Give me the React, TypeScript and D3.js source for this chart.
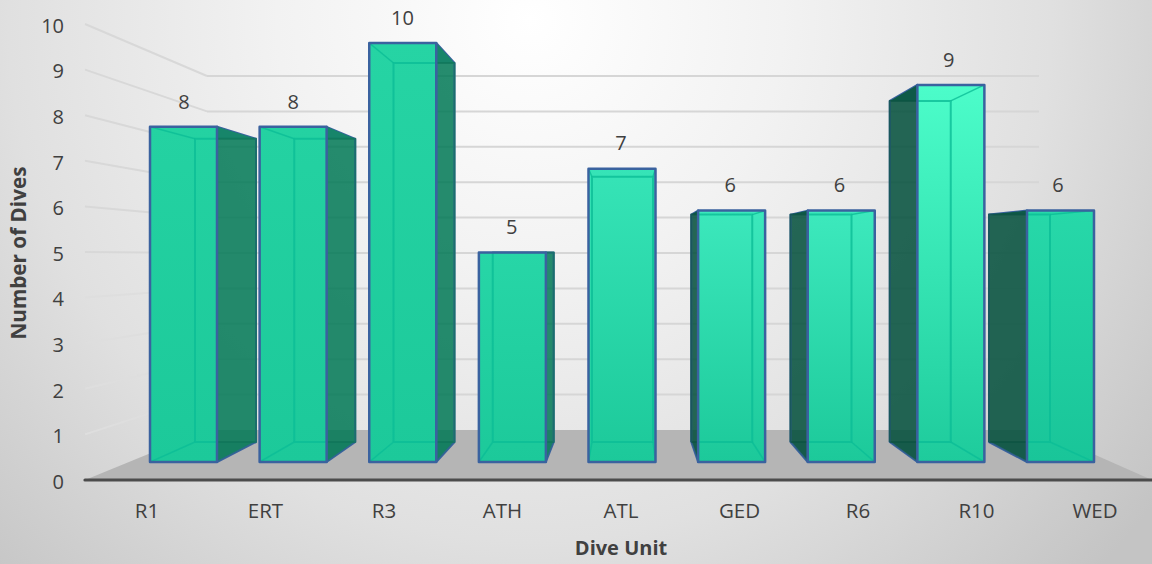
import React from 'react';
import * as d3 from 'd3';

const categories = ['R1', 'ERT', 'R3', 'ATH', 'ATL', 'GED', 'R6', 'R10', 'WED'];
const dives = [8, 8, 10, 5, 7, 6, 6, 9, 6];
const yTicks = [0, 1, 2, 3, 4, 5, 6, 7, 8, 9, 10];
const frontTop = ['#24d2a2', '#24d2a2', '#26d4a4', '#27d6a7', '#36e4b7', '#3ce8bc', '#3de9bd', '#4cfdca', '#27d8a9'];
const frontBottom = ['#1cc99a', '#1cc99a', '#1cc99a', '#1cc99a', '#1cc99a', '#1cc99a', '#1cc99a', '#1ecb9c', '#19c599'];

const W = 1152, H = 564;
const n = categories.length - 1;
const frontLeft = d3.scaleLinear().domain([0, n]).range([150, 1027]);
const backLeft = d3.scaleLinear().domain([0, n]).range([195, 989]);
const labelX = d3.scaleLinear().domain([0, n]).range([147, 1095]);
const valueX = d3.scaleLinear().domain([0, n]).range([184, 1058]);
const frontW = 67, backW = 61;
const yFront = d3.scaleLinear().domain([0, 10]).range([462, 43]);
const yBack = d3.scaleLinear().domain([0, 10]).range([442, 63]);
const yAxis = d3.scaleLinear().domain([0, 10]).range([480, 24]);
const yWall = d3.scaleLinear().domain([0, 10]).range([430, 76]);
const wallL = 207, wallR = 1039, axisL = 85, axisR = 1152;
const line = d3.line();
const FONT = '"Open Sans", sans-serif';
const EDGE = '#3a629f';
const INNER = '#0bbd96';
const TEXT = '#404040';

export default function App() {
  return (
    <svg width={W} height={H} style={{ position: 'absolute', left: 0, top: 0 }} fontFamily={FONT}>
      <defs>
        <radialGradient id="bg" gradientUnits="userSpaceOnUse" cx={530} cy={20} r={790}>
          <stop offset="0" stopColor="#ffffff" />
          <stop offset="0.32" stopColor="#f2f2f2" />
          <stop offset="0.66" stopColor="#e0e0e0" />
          <stop offset="1" stopColor="#c4c4c4" />
        </radialGradient>
        {categories.map((c, i) => (
          <linearGradient key={c} id={`f${i}`} gradientUnits="userSpaceOnUse" x1={0} x2={0} y1={yFront(dives[i])} y2={yFront(0)}>
            <stop offset="0" stopColor={frontTop[i]} />
            <stop offset="1" stopColor={frontBottom[i]} />
          </linearGradient>
        ))}
        {categories.map((c, i) => (
          <clipPath key={c} id={`c${i}`}>
            <rect x={frontLeft(i)} y={yFront(dives[i])} width={frontW} height={yFront(0) - yFront(dives[i])} />
          </clipPath>
        ))}
      </defs>
      <rect width={W} height={H} fill="url(#bg)" />
      <path d={line([[axisL, 480], [wallL, 430], [wallR, 430], [axisR, 480]]) + 'Z'} fill="#b5b5b5" />
      {yTicks.slice(1).map(t => (
        <g key={t} fill="none" strokeWidth={2}>
          <path d={line([[axisL, yAxis(t)], [wallL, yWall(t)]]) ?? ''} stroke={t < 5 ? '#dedede' : '#d8d8d8'} />
          <path d={line([[wallL, yWall(t)], [wallR, yWall(t)]]) ?? ''} stroke="#d6d6d6" />
        </g>
      ))}
      <line x1={axisL} x2={axisR} y1={480} y2={480} stroke="#4c4c4c" strokeWidth={3.2} strokeLinecap="round" />
      {yTicks.map(t => (
        <text key={t} x={64} y={yAxis(t) + 1.5} dy="0.36em" textAnchor="end" fontSize={20} fill={TEXT}>{t}</text>
      ))}
      {categories.map((c, i) => {
        const v = dives[i];
        const fl = frontLeft(i), fr = fl + frontW, bl = backLeft(i), br = bl + backW;
        const ft = yFront(v), fb = yFront(0), bt = yBack(v), bb = yBack(0);
        const leftSide = bl < fl;
        const rightSide = br > fr;
        const innerPath = line([[bl, bb], [br, bb], [br, bt], [bl, bt], [bl, bb]]) ?? '';
        return (
          <g key={c} strokeLinejoin="round">
            {leftSide && (
              <path d={line([[bl, bt], [fl, ft], [fl, fb], [bl, bb]]) + 'Z'} fill="rgba(0,77,58,0.85)" stroke={EDGE} strokeWidth={2} />
            )}
            {rightSide && (
              <path d={line([[br, bt], [fr, ft], [fr, fb], [br, bb]]) + 'Z'} fill="rgba(0,120,85,0.85)" stroke={EDGE} strokeWidth={2} />
            )}
            <path d={line([[fl, ft], [fr, ft], [br, bt], [bl, bt]]) + 'Z'} fill={leftSide ? '#0e5a48' : '#17856a'} stroke="none" />
            <path d={line([[fl, fb], [fr, fb], [br, bb], [bl, bb]]) + 'Z'} fill={leftSide ? '#0e5a48' : '#0f7a5f'} fillOpacity={0.35} stroke="none" />
            <path d={innerPath} fill="none" stroke={leftSide ? '#0c5342' : '#0e7359'} strokeWidth={2} strokeOpacity={0.7} />
            <rect x={fl} y={ft} width={frontW} height={fb - ft} fill={`url(#f${i})`} />
            <g clipPath={`url(#c${i})`} fill="none" stroke={INNER} strokeOpacity={0.8}>
              <path d={innerPath} strokeWidth={2} />
              <path d={line([[fl, ft], [bl, bt]]) ?? ''} strokeWidth={1.5} />
              <path d={line([[fr, ft], [br, bt]]) ?? ''} strokeWidth={1.5} />
              <path d={line([[fl, fb], [bl, bb]]) ?? ''} strokeWidth={1.5} />
              <path d={line([[fr, fb], [br, bb]]) ?? ''} strokeWidth={1.5} />
            </g>
            <rect x={fl} y={ft} width={frontW} height={fb - ft} fill="none" stroke={EDGE} strokeWidth={2.5} />
            <text x={valueX(i)} y={ft - 25.5} dy="0.36em" textAnchor="middle" fontSize={20} fill={TEXT}>{v}</text>
            <text x={labelX(i)} y={511} dy="0.36em" textAnchor="middle" fontSize={20.5} fill={TEXT}>{c}</text>
          </g>
        );
      })}
      <text x={621} y={548} dy="0.36em" textAnchor="middle" fontSize={20} fontWeight={700} fill={TEXT}>Dive Unit</text>
      <text transform="translate(19,253) rotate(-90)" dy="0.36em" textAnchor="middle" fontSize={20.7} fontWeight={700} fill={TEXT}>Number of Dives</text>
    </svg>
  );
}
